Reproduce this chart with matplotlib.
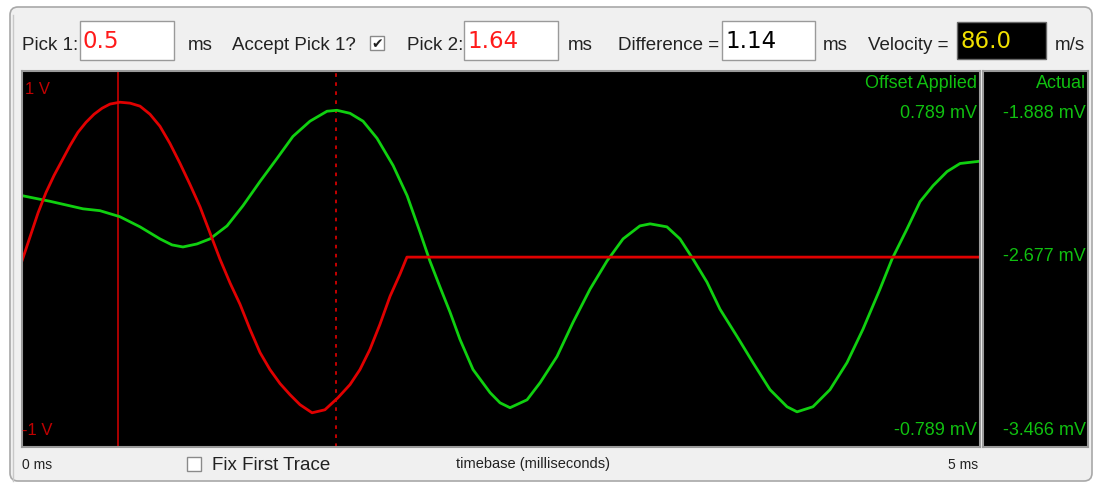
import matplotlib
matplotlib.use("Agg")
import matplotlib.pyplot as plt
from matplotlib.patches import Rectangle, FancyBboxPatch

# traces, time in ms
red_t = [0.0, 0.042, 0.084, 0.125, 0.167, 0.209, 0.251, 0.292, 0.334, 0.376,
         0.418, 0.459, 0.511, 0.564, 0.616, 0.668, 0.72, 0.772, 0.825, 0.877,
         0.929, 0.981, 1.033, 1.086, 1.138, 1.19, 1.242, 1.294, 1.347, 1.399,
         1.451, 1.514, 1.581, 1.649, 1.712, 1.764, 1.816, 1.868, 1.921, 1.973,
         2.009, 5.0]
red_v = [-0.01, 0.118, 0.246, 0.353, 0.444, 0.524, 0.604, 0.674, 0.727, 0.77,
         0.802, 0.824, 0.834, 0.829, 0.813, 0.77, 0.706, 0.615, 0.508, 0.396,
         0.278, 0.139, 0.0, -0.128, -0.241, -0.374, -0.497, -0.588, -0.663, -0.722,
         -0.775, -0.818, -0.802, -0.738, -0.668, -0.588, -0.481, -0.348, -0.198, -0.08,
         0.01, 0.01]

green_t = [0.0, 0.146, 0.318, 0.407, 0.511, 0.616, 0.72, 0.783, 0.84, 0.913,
           0.981, 1.07, 1.153, 1.242, 1.331, 1.414, 1.503, 1.592, 1.644, 1.712,
           1.78, 1.853, 1.937, 2.01, 2.077, 2.129, 2.182, 2.234, 2.286, 2.354,
           2.443, 2.495, 2.547, 2.636, 2.704, 2.792, 2.876, 2.965, 3.053, 3.137,
           3.225, 3.278, 3.366, 3.434, 3.502, 3.575, 3.643, 3.732, 3.815, 3.904,
           3.993, 4.045, 4.128, 4.217, 4.306, 4.389, 4.478, 4.541, 4.619, 4.687,
           4.755, 4.828, 4.896, 4.99]
green_mv = [0.337, 0.307, 0.267, 0.257, 0.225, 0.171, 0.107, 0.075, 0.064, 0.08,
            0.107, 0.176, 0.283, 0.412, 0.535, 0.652, 0.733, 0.786, 0.791, 0.775,
            0.733, 0.642, 0.497, 0.337, 0.144, -0.011, -0.15, -0.283, -0.428, -0.588,
            -0.711, -0.765, -0.791, -0.749, -0.658, -0.519, -0.337, -0.16, -0.011, 0.107,
            0.176, 0.187, 0.171, 0.107, 0.0, -0.123, -0.267, -0.412, -0.551, -0.695,
            -0.786, -0.813, -0.786, -0.695, -0.551, -0.374, -0.16, 0.0, 0.16, 0.305,
            0.39, 0.465, 0.508, 0.519]

pick1 = "0.5"
pick2 = "1.64"
difference = "1.14"
velocity = "86.0"
pick1_ms = 0.5
pick2_ms = 1.64
offset_labels = ["0.789 mV", "-0.789 mV"]
actual_labels = ["-1.888 mV", "-2.677 mV", "-3.466 mV"]

W, H = 1095, 485
plt.rcParams['font.family'] = ['Liberation Sans', 'DejaVu Sans']
fig = plt.figure(figsize=(W / 100, H / 100), dpi=100)
fig.patch.set_facecolor('white')


def px_axes(x0, y0, x1, y1, z=0):
    a = fig.add_axes([x0 / W, 1 - y1 / H, (x1 - x0) / W, (y1 - y0) / H], zorder=z)
    return a


# panel background, pixel coordinates
bg = px_axes(0, 0, W, H, z=0)
bg.set_xlim(0, W)
bg.set_ylim(H, 0)
bg.axis('off')
bg.add_patch(FancyBboxPatch((10, 8), 1082, 474, boxstyle="round,pad=0,rounding_size=8",
                            fc='#f0f0f0', ec='#a8a8a8', lw=1.2))
bg.plot([12.5, 12.5], [16, 482], color='#c8c8c8', lw=1)

# top row of widgets
tc = '#222222'
fs = 13.5
vfs = 16.5
bg.text(22, 45, "Pick 1:", fontsize=fs, color=tc, va='center')
bg.add_patch(Rectangle((80, 22), 94, 39, fc='white', ec='#9a9a9a', lw=1))
bg.text(83, 41, pick1, fontsize=vfs, color='#ff1a1a', va='center', family='DejaVu Sans')
bg.text(188, 45, "ms", fontsize=fs, color=tc, va='center')
bg.text(232, 45, "Accept Pick 1?", fontsize=fs, color=tc, va='center')
bg.add_patch(Rectangle((370, 37), 14, 14, fc='white', ec='#8a8a8a', lw=1))
bg.text(377, 44.5, "\u2714", fontsize=10, color='#222222', ha='center', va='center',
        family='DejaVu Sans')
bg.text(407, 45, "Pick 2:", fontsize=fs, color=tc, va='center')
bg.add_patch(Rectangle((464, 22), 94, 39, fc='white', ec='#9a9a9a', lw=1))
bg.text(467, 41, pick2, fontsize=vfs, color='#ff1a1a', va='center', family='DejaVu Sans')
bg.text(568, 45, "ms", fontsize=fs, color=tc, va='center')
bg.text(618, 45, "Difference =", fontsize=fs, color=tc, va='center')
bg.add_patch(Rectangle((722, 22), 93, 39, fc='white', ec='#9a9a9a', lw=1))
bg.text(725, 41, difference, fontsize=vfs, color='black', va='center', family='DejaVu Sans')
bg.text(823, 45, "ms", fontsize=fs, color=tc, va='center')
bg.text(868, 45, "Velocity =", fontsize=fs, color=tc, va='center')
bg.add_patch(Rectangle((957, 23), 89, 37, fc='black', ec='#6a6a6a', lw=1))
bg.text(960, 41, velocity, fontsize=vfs, color='#f0e000', va='center', family='DejaVu Sans')
bg.text(1055, 45, "m/s", fontsize=fs, color=tc, va='center')

# bottom row
bg.text(22, 465, "0 ms", fontsize=10, color=tc, va='center')
bg.add_patch(Rectangle((187, 458), 14, 14, fc='white', ec='#8a8a8a', lw=1))
bg.text(212, 466, "Fix First Trace", fontsize=fs, color=tc, va='center')
bg.text(533, 464, "timebase (milliseconds)", fontsize=10.5, color=tc, va='center', ha='center')
bg.text(948, 465, "5 ms", fontsize=10, color=tc, va='center')

# scope screen
ax = px_axes(22, 72, 980, 448, z=2)
ax.set_facecolor('black')
ax.set_xlim(0, 5)
ax.set_ylim(-1, 1)
ax.set_xticks([])
ax.set_yticks([])
for s in ax.spines.values():
    s.set_color('#9a9a9a')
    s.set_linewidth(1.5)
ax.axvline(pick1_ms, color='#b80000', lw=1.3)
ax.axvline(pick2_ms, color='#d40000', lw=1.3, ls=(0, (2, 3)))
ax.plot(green_t, green_mv, color='#10d010', lw=2.0, solid_joinstyle='round')
ax.plot(red_t, red_v, color='#e00000', lw=2.0, solid_joinstyle='round')

# actual-value panel
ax2 = px_axes(983, 72, 1088, 448, z=2)
ax2.set_facecolor('black')
ax2.set_xticks([])
ax2.set_yticks([])
for s in ax2.spines.values():
    s.set_color('#9a9a9a')
    s.set_linewidth(1.5)

# screen labels on top
fg = px_axes(0, 0, W, H, z=5)
fg.set_xlim(0, W)
fg.set_ylim(H, 0)
fg.axis('off')
gc = '#10c010'
lfs = 13
fg.text(25, 90, "1 V", fontsize=12, color='#c00000', va='center')
fg.text(22, 431, "-1 V", fontsize=12, color='#c00000', va='center')
fg.text(977, 84, "Offset Applied", fontsize=lfs, color=gc, va='center', ha='right')
fg.text(977, 113, offset_labels[0], fontsize=lfs, color=gc, va='center', ha='right')
fg.text(977, 431, offset_labels[1], fontsize=lfs, color=gc, va='center', ha='right')
fg.text(1086, 84, "Actual", fontsize=lfs, color=gc, va='center', ha='right')
fg.text(1086, 113, actual_labels[0], fontsize=lfs, color=gc, va='center', ha='right')
fg.text(1086, 257, actual_labels[1], fontsize=lfs, color=gc, va='center', ha='right')
fg.text(1086, 431, actual_labels[2], fontsize=lfs, color=gc, va='center', ha='right')

fig.savefig("out.png", dpi=100, facecolor=fig.get_facecolor())
